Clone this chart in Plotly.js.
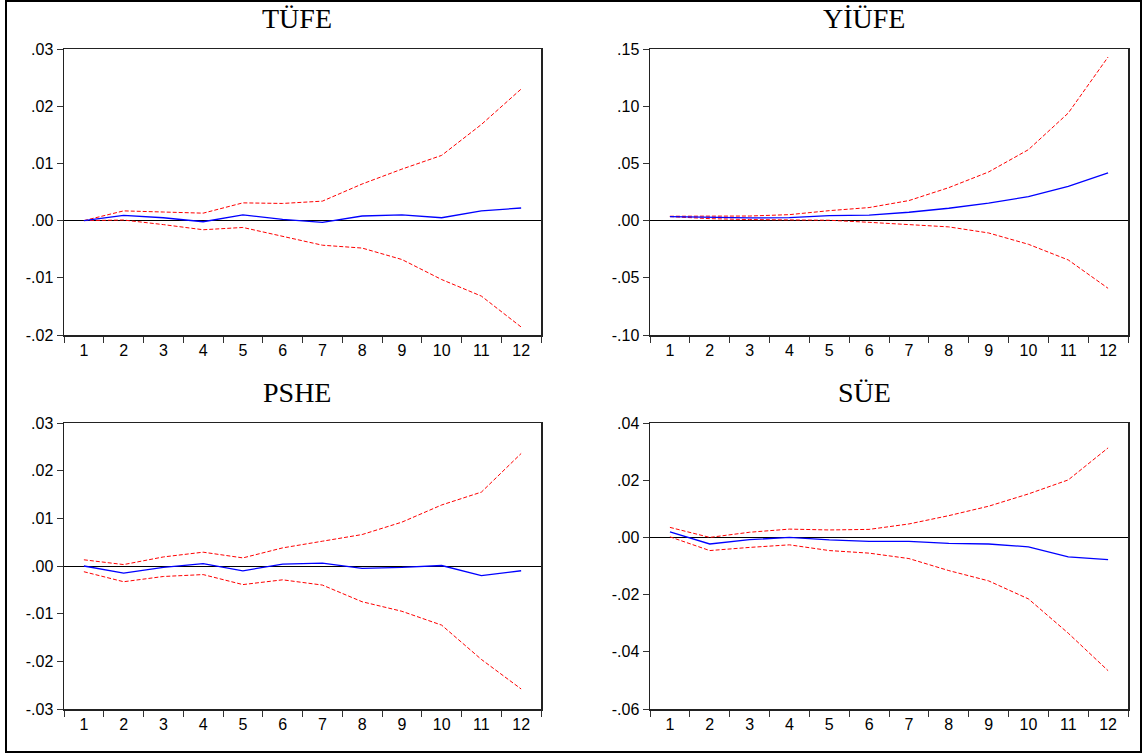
<!DOCTYPE html>
<html>
<head>
<meta charset="utf-8">
<script src="https://cdn.plot.ly/plotly-3.0.1.min.js"></script>
<style>html,body{margin:0;padding:0;background:#fff;}#chart{width:1144px;height:756px;}</style>
</head>
<body>
<div id="chart"></div>
<script>
// ---- data ----
const periods = ["1","2","3","4","5","6","7","8","9","10","11","12"];

const titles = ["TÜFE", "YİÜFE", "PSHE", "SÜE"];

const tufeResp  = [0.0000, 0.0009, 0.0005, -0.0002, 0.0010, 0.0002, -0.0003, 0.0008, 0.0010, 0.0005, 0.0017, 0.0022];
const tufeUpper = [0.0000, 0.0017, 0.0015, 0.0013, 0.0031, 0.0030, 0.0034, 0.0064, 0.0090, 0.0114, 0.0168, 0.0230];
const tufeLower = [0.0000, 0.0001, -0.0007, -0.0016, -0.0012, -0.0027, -0.0043, -0.0048, -0.0068, -0.0103, -0.0132, -0.0186];

const yiufeResp  = [0.0035, 0.0026, 0.0023, 0.0026, 0.0044, 0.0047, 0.0073, 0.0108, 0.0152, 0.0210, 0.0300, 0.0417];
const yiufeUpper = [0.0038, 0.0038, 0.0040, 0.0052, 0.0087, 0.0114, 0.0175, 0.0288, 0.0425, 0.0620, 0.0940, 0.1430];
const yiufeLower = [0.0035, 0.0017, 0.0009, 0.0006, 0.0003, -0.0015, -0.0032, -0.0055, -0.0108, -0.0207, -0.0344, -0.0592];

const psheResp  = [0.0000, -0.0015, -0.0003, 0.0005, -0.0010, 0.0004, 0.0006, -0.0005, -0.0003, 0.0001, -0.0020, -0.0010];
const psheUpper = [0.0013, 0.0003, 0.0019, 0.0029, 0.0017, 0.0038, 0.0052, 0.0066, 0.0092, 0.0128, 0.0155, 0.0236];
const psheLower = [-0.0012, -0.0033, -0.0022, -0.0018, -0.0039, -0.0029, -0.0040, -0.0075, -0.0095, -0.0124, -0.0196, -0.0258];

const sueResp  = [0.0019, -0.0023, -0.0008, 0.0000, -0.0009, -0.0014, -0.0014, -0.0021, -0.0023, -0.0033, -0.0068, -0.0078];
const sueUpper = [0.0035, 0.0000, 0.0018, 0.0029, 0.0026, 0.0028, 0.0047, 0.0076, 0.0109, 0.0152, 0.0201, 0.0313];
const sueLower = [0.0002, -0.0046, -0.0035, -0.0026, -0.0046, -0.0055, -0.0074, -0.0116, -0.0152, -0.0215, -0.0335, -0.0466];

const tufeTickVals  = [-0.02, -0.01, 0, 0.01, 0.02, 0.03];
const tufeTickText  = ["-.02", "-.01", ".00", ".01", ".02", ".03"];
const yiufeTickVals = [-0.10, -0.05, 0, 0.05, 0.10, 0.15];
const yiufeTickText = ["-.10", "-.05", ".00", ".05", ".10", ".15"];
const psheTickVals  = [-0.03, -0.02, -0.01, 0, 0.01, 0.02, 0.03];
const psheTickText  = ["-.03", "-.02", "-.01", ".00", ".01", ".02", ".03"];
const sueTickVals   = [-0.06, -0.04, -0.02, 0, 0.02, 0.04];
const sueTickText   = ["-.06", "-.04", "-.02", ".00", ".02", ".04"];

// ---- layout helpers ----
const W = 1144, H = 756;
const px = x => x / W;
const py = y => (H - y) / H;

const panels = [
  {resp: tufeResp,  up: tufeUpper,  lo: tufeLower,  tv: tufeTickVals,  tt: tufeTickText,  range: [-0.02, 0.03], x: [64, 541],  y: [49, 335],  tx: 297, ty: 18},
  {resp: yiufeResp, up: yiufeUpper, lo: yiufeLower, tv: yiufeTickVals, tt: yiufeTickText, range: [-0.10, 0.15], x: [650, 1128], y: [49, 335],  tx: 864, ty: 18},
  {resp: psheResp,  up: psheUpper,  lo: psheLower,  tv: psheTickVals,  tt: psheTickText,  range: [-0.03, 0.03], x: [64, 541],  y: [423, 709], tx: 297, ty: 392},
  {resp: sueResp,   up: sueUpper,   lo: sueLower,   tv: sueTickVals,   tt: sueTickText,   range: [-0.06, 0.04], x: [650, 1128], y: [423, 709], tx: 864, ty: 392}
];

const traces = [];
const layout = {
  width: W, height: H,
  margin: {l: 0, r: 0, t: 0, b: 0},
  paper_bgcolor: "#ffffff",
  plot_bgcolor: "#ffffff",
  showlegend: false,
  font: {family: "Liberation Sans, Arial, sans-serif", size: 16, color: "#000"},
  annotations: [],
  shapes: [{
    type: "rect", xref: "paper", yref: "paper",
    x0: px(6), x1: px(1141), y0: py(752), y1: py(1),
    line: {color: "#000", width: 2}
  }]
};

panels.forEach((p, i) => {
  const n = i + 1;
  const xa = "x" + (n === 1 ? "" : n);
  const ya = "y" + (n === 1 ? "" : n);
  const dash = {color: "#ff0000", width: 1, dash: "4px,2px"};
  traces.push({x: periods, y: p.up, xaxis: xa, yaxis: ya, type: "scatter", mode: "lines", line: dash, hoverinfo: "skip"});
  traces.push({x: periods, y: p.lo, xaxis: xa, yaxis: ya, type: "scatter", mode: "lines", line: dash, hoverinfo: "skip"});
  traces.push({x: periods, y: p.resp, xaxis: xa, yaxis: ya, type: "scatter", mode: "lines", line: {color: "#0000ff", width: 1.3}, hoverinfo: "skip"});

  layout["xaxis" + (n === 1 ? "" : n)] = {
    domain: [px(p.x[0]), px(p.x[1])],
    anchor: ya,
    type: "category",
    range: [-0.5, periods.length - 0.5],
    tickson: "boundaries",
    ticks: "outside", ticklen: 6, tickwidth: 1, tickcolor: "#333",
    ticklabelstandoff: 0,
    showline: true, mirror: true, linecolor: "#222", linewidth: 1.5,
    showgrid: false, zeroline: false,
    tickfont: {family: "Liberation Sans, Arial, sans-serif", size: 16, color: "#000"},
    fixedrange: true
  };
  layout["yaxis" + (n === 1 ? "" : n)] = {
    domain: [py(p.y[1]), py(p.y[0])],
    anchor: xa,
    range: p.range,
    tickmode: "array", tickvals: p.tv, ticktext: p.tt,
    ticks: "outside", ticklen: 6, tickwidth: 1, tickcolor: "#333",
    showline: true, mirror: true, linecolor: "#222", linewidth: 1.5,
    showgrid: false,
    zeroline: true, zerolinecolor: "#000", zerolinewidth: 1,
    tickfont: {family: "Liberation Sans, Arial, sans-serif", size: 16, color: "#000"},
    fixedrange: true
  };
  layout.annotations.push({
    text: titles[i], xref: "paper", yref: "paper",
    x: px(p.tx), y: py(p.ty), xanchor: "center", yanchor: "middle",
    showarrow: false,
    font: {family: "Liberation Serif, Times New Roman, serif", size: 28, color: "#000"}
  });
});

Plotly.newPlot("chart", traces, layout, {displayModeBar: false, staticPlot: true});
</script>
</body>
</html>
